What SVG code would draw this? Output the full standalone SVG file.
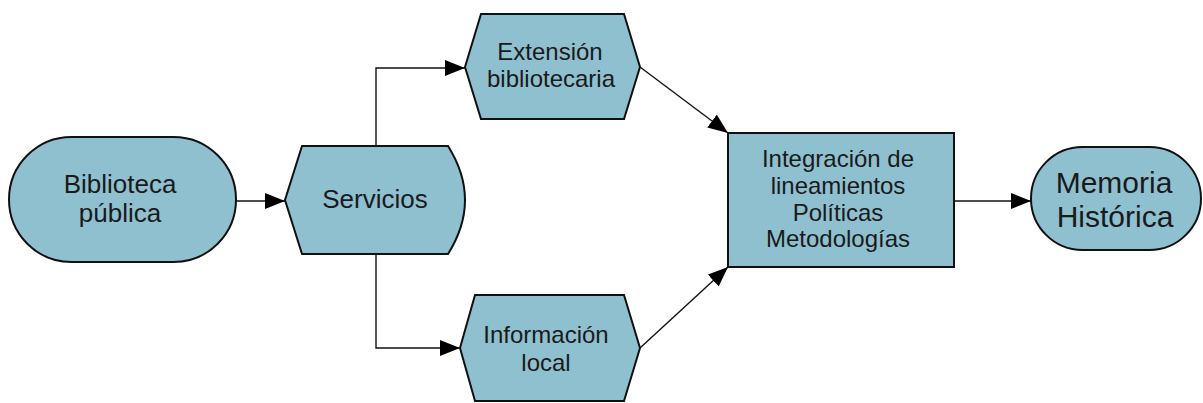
<svg xmlns="http://www.w3.org/2000/svg" width="1203" height="403" viewBox="0 0 1203 403">
<style>
.n{fill:#8fc0d0;stroke:#111;stroke-width:2}
.t{font-family:"Liberation Sans",Arial,sans-serif;fill:#1a1a1a;text-anchor:middle}
.c{fill:none;stroke:#111;stroke-width:1.4}
</style>
<defs>
<marker id="a" markerUnits="userSpaceOnUse" markerWidth="20" markerHeight="16" refX="20" refY="8" orient="auto">
<path d="M0,0 L20,8 L0,16 Z" fill="#000"/>
</marker>
</defs>
<rect width="1203" height="403" fill="#fff"/>
<g id="connectors">
<line class="c" x1="236" y1="201" x2="285" y2="201" marker-end="url(#a)"/>
<polyline class="c" points="376,146 376,68 465,68" marker-end="url(#a)"/>
<polyline class="c" points="376,254 376,348 460,348" marker-end="url(#a)"/>
<line class="c" x1="640" y1="67" x2="728" y2="133" marker-end="url(#a)"/>
<line class="c" x1="640" y1="348" x2="728" y2="267" marker-end="url(#a)"/>
<line class="c" x1="954" y1="201" x2="1031" y2="201" marker-end="url(#a)"/>
</g>
<g id="biblioteca">
<rect class="n" x="9" y="137" width="227" height="125" rx="62.5"/>
<text class="t" font-size="26" x="120" y="193">Biblioteca</text>
<text class="t" font-size="26" x="120" y="222">pública</text>
</g>
<g id="servicios">
<path class="n" d="M302,146 L448,146 Q482,200 448,254 L302,254 L285,200 Z"/>
<text class="t" font-size="26" x="375" y="208">Servicios</text>
</g>
<g id="extension">
<path class="n" d="M465,67 L481,14 L624,14 L640,67 L624,119 L481,119 Z"/>
<text class="t" font-size="24" x="550" y="60">Extensión</text>
<text class="t" font-size="24" x="551" y="87">bibliotecaria</text>
</g>
<g id="informacion">
<path class="n" d="M460,348 L475,295 L624,295 L640,348 L624,401 L475,401 Z"/>
<text class="t" font-size="24" x="546" y="343">Información</text>
<text class="t" font-size="24" x="546" y="371">local</text>
</g>
<g id="integracion">
<rect class="n" x="728" y="133" width="226" height="134"/>
<text class="t" font-size="24" x="838" y="167">Integración de</text>
<text class="t" font-size="24" x="838" y="194">lineamientos</text>
<text class="t" font-size="24" x="838" y="221">Políticas</text>
<text class="t" font-size="24" x="838" y="247">Metodologías</text>
</g>
<g id="memoria">
<rect class="n" x="1031" y="147" width="170" height="103" rx="51.5"/>
<text class="t" font-size="30" x="1114" y="193">Memoria</text>
<text class="t" font-size="30" x="1115" y="227">Histórica</text>
</g>
</svg>
